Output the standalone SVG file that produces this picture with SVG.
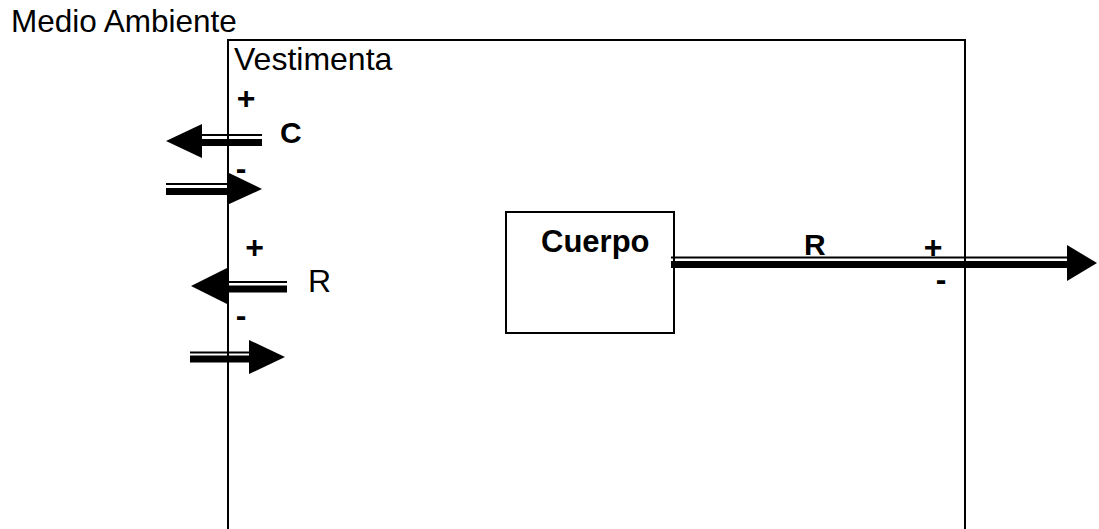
<svg xmlns="http://www.w3.org/2000/svg" width="1099" height="529" viewBox="0 0 1099 529">
  <style>
    .box { fill: #ffffff; stroke: #000000; stroke-width: 2; }
    .lbl { font-family: "Liberation Sans", Arial, sans-serif; fill: #000000; }
    .big { font-size: 32px; }
    .bold { font-weight: bold; }
    .sign { font-size: 32px; font-weight: bold; text-anchor: middle; }
    .thin { fill: #000000; }
    .thick { fill: #000000; }
    .head { fill: #000000; }
  </style>
  <rect width="1099" height="529" fill="#ffffff"/>

  <!-- environment label -->
  <g id="medio-ambiente">
    <text class="lbl" x="11" y="32" font-size="31.5">Medio Ambiente</text>
  </g>

  <!-- clothing layer -->
  <g id="vestimenta">
    <rect class="box" x="228" y="40" width="737" height="500"/>
    <text class="lbl big" x="234" y="70">Vestimenta</text>
  </g>

  <!-- body -->
  <g id="cuerpo">
    <rect class="box" x="506" y="212" width="168" height="121"/>
    <text class="lbl bold" x="541" y="252" font-size="31">Cuerpo</text>
  </g>

  <!-- heat flows: thin + thick double shaft with solid head -->
  <g id="connectors">
    <!-- C outward -->
    <g id="c-out">
      <rect class="thin" x="201" y="134" width="61" height="2"/>
      <rect class="thick" x="201" y="139" width="61" height="7"/>
      <polygon class="head" points="166,141 202,124 202,158"/>
    </g>
    <!-- C inward -->
    <g id="c-in">
      <rect class="thin" x="166" y="183" width="62" height="2"/>
      <rect class="thick" x="166" y="188" width="62" height="7"/>
      <polygon class="head" points="262,189 227,172 227,205"/>
    </g>
    <!-- R outward -->
    <g id="r-out">
      <rect class="thin" x="226" y="281" width="61" height="2"/>
      <rect class="thick" x="226" y="285.5" width="61" height="7"/>
      <polygon class="head" points="191,286 227,268 227,304"/>
    </g>
    <!-- R inward -->
    <g id="r-in">
      <rect class="thin" x="190" y="351.5" width="60" height="2"/>
      <rect class="thick" x="190" y="355.5" width="60" height="7"/>
      <polygon class="head" points="285,357 249,340 249,374"/>
    </g>
    <!-- R from body to environment -->
    <g id="r-body">
      <rect class="thin" x="671" y="256.5" width="398" height="2"/>
      <rect class="thick" x="671" y="261" width="398" height="7"/>
      <polygon class="head" points="1097,263 1067,245 1067,281"/>
    </g>
  </g>

  <!-- flow labels -->
  <g id="labels">
    <text class="lbl sign" x="246" y="109">+</text>
    <text class="lbl bold" x="280" y="143" font-size="30">C</text>
    <text class="lbl sign" x="241" y="179">-</text>

    <text class="lbl sign" x="254.5" y="258">+</text>
    <text class="lbl" x="308" y="292" font-size="32">R</text>
    <text class="lbl sign" x="241" y="326">-</text>

    <text class="lbl bold" x="804" y="255" font-size="30">R</text>
    <text class="lbl sign" x="933" y="258">+</text>
    <text class="lbl sign" x="941" y="290">-</text>
  </g>
</svg>
